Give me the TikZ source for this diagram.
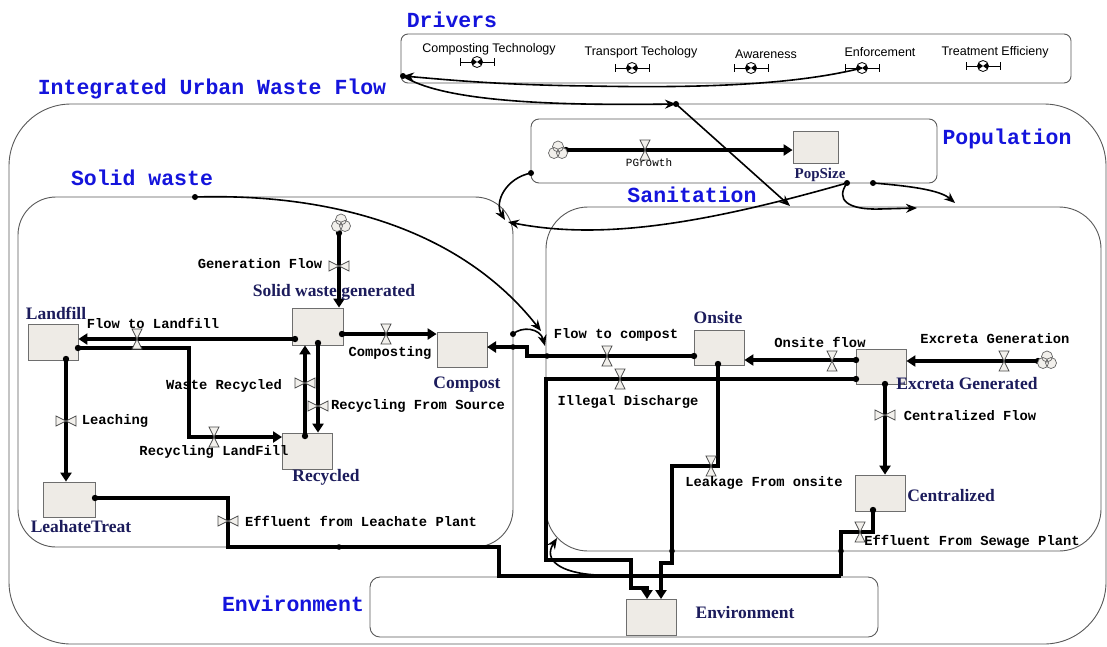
\documentclass[tikz,border=0pt]{standalone}
\usepackage{fontspec}
\setmainfont{Liberation Serif}
\newfontfamily\monof{Liberation Mono}
\newfontfamily\sansf{Liberation Sans}
\usetikzlibrary{arrows.meta}
\definecolor{stockfill}{HTML}{EEEBE6}
\definecolor{stockdraw}{HTML}{6E6E6E}
\definecolor{secblue}{HTML}{1414DC}
\definecolor{navy}{HTML}{1C1C5C}
\definecolor{valvefill}{HTML}{F2F0EC}
\tikzset{
  seclabel/.style={text=secblue, font=\monof\bfseries\fontsize{21.5}{22}\selectfont, inner sep=0pt},
  flowlabel/.style={font=\monof\bfseries\fontsize{13.8}{14}\selectfont, inner sep=0pt},
  stocklabel/.style={text=navy, font=\bfseries\fontsize{17.5}{18}\selectfont, inner sep=0pt},
  drvlabel/.style={font=\sansf\fontsize{12.5}{13}\selectfont, inner sep=0pt},
  stock/.style={draw=stockdraw, fill=stockfill, line width=0.8pt, inner sep=0pt},
  sector/.style={draw=black!65, line width=0.9pt, inner sep=0pt},
  flow/.style={line width=4pt, line join=miter, -{Triangle[length=9pt,width=11pt]}},
  flowline/.style={line width=4pt, line join=miter},
  info/.style={line width=1.6pt, -{Stealth[length=11pt,width=9pt]}},
  valvestyle/.style={draw=black!70, fill=valvefill, line width=0.7pt, line join=miter},
  valveV/.pic={\draw[valvestyle] (-5,-10) -- (5,-10) -- (-5,10) -- (5,10) -- cycle;},
  valveH/.pic={\draw[valvestyle] (-10,-5) -- (-10,5) -- (10,-5) -- (10,5) -- cycle;},
  cloudpic/.pic={\draw[fill=valvefill, draw=black!60, line width=0.7pt] (-4,3) circle (5.5pt) (4,3) circle (5.5pt) (0,-3.5) circle (5.5pt);},
  convpic/.pic={
    \draw[line width=0.9pt] (-17,0) -- (17,0) (-17,-4) -- (-17,4) (17,-4) -- (17,4);
    \fill[white] (0,0) circle (5.5pt);
    \begin{scope}\clip (0,0) circle (5.5pt);
      \fill (-6,-4.5) -- (-6,4.5) -- (6,-4.5) -- (6,4.5) -- cycle;
    \end{scope}
    \draw[line width=0.8pt] (0,0) circle (5.5pt);}
}
\begin{document}
\begin{tikzpicture}[x=1pt,y=-1pt]
\useasboundingbox (0,0) rectangle (1107,646);
\fill[white] (0,0) rectangle (1107,646);

% sector boxes
\node[sector, rounded corners=62pt, minimum width=1097pt, minimum height=540pt] (integrated) at (557.5,374) {};
\node[sector, rounded corners=7pt, minimum width=670pt, minimum height=49pt] (drivers) at (736,58.5) {};
\node[sector, rounded corners=8pt, minimum width=406pt, minimum height=64pt] (popbox) at (734,151) {};
\node[sector, rounded corners=38pt, minimum width=495pt, minimum height=350pt] (solidbox) at (265.5,372) {};
\node[sector, rounded corners=42pt, minimum width=555pt, minimum height=344pt] (sanbox) at (823.5,379) {};
\node[sector, rounded corners=10pt, minimum width=508pt, minimum height=60pt] (envbox) at (624,607) {};

% sector labels
\node[seclabel] (tDrivers) at (452,20) {Drivers};
\node[seclabel] (tIntegrated) at (212,89) {Integrated Urban Waste Flow};
\node[seclabel] (tPopulation) at (1007,139) {Population};
\node[seclabel] (tSolid) at (142,178) {Solid waste};
\node[seclabel] (tSanitation) at (692,195) {Sanitation};
\node[seclabel] (tEnvironment) at (293,604) {Environment};

% stocks
\node[stock, minimum width=50pt, minimum height=36pt] (landfill) at (53,342) {};
\node[stock, minimum width=51pt, minimum height=37pt] (swg) at (317.5,326.5) {};
\node[stock, minimum width=50pt, minimum height=35pt] (compost) at (462,349.5) {};
\node[stock, minimum width=50pt, minimum height=36pt] (recycled) at (307,451) {};
\node[stock, minimum width=52pt, minimum height=35pt] (leach) at (69,499.5) {};
\node[stock, minimum width=50pt, minimum height=35pt] (onsite) at (719,347.5) {};
\node[stock, minimum width=50pt, minimum height=35pt] (excreta) at (881,366.5) {};
\node[stock, minimum width=50pt, minimum height=36pt] (central) at (880,493) {};
\node[stock, minimum width=50pt, minimum height=36pt] (envstock) at (651,617) {};
\node[stock, minimum width=45pt, minimum height=32pt] (popsize) at (815.5,147) {};

% driver converters
\node[drvlabel] (dComp) at (489,49) {Composting Technology};
\node[drvlabel] (dTrans) at (641,52) {Transport Techology};
\node[drvlabel] (dAware) at (766,54) {Awareness};
\node[drvlabel] (dEnf) at (880,52) {Enforcement};
\node[drvlabel] (dTreat) at (995,52) {Treatment Efficieny};
\coordinate (cComp) at (477,62);
\coordinate (cTrans) at (632,68);
\coordinate (cAware) at (751,68);
\coordinate (cEnf) at (862,68);
\coordinate (cTreat) at (983,66);
\foreach \c in {cComp,cTrans,cAware,cEnf,cTreat} {\pic at (\c) {convpic};}

% information connectors
\coordinate (drvL) at (403,76);
\coordinate (topJ) at (676,104);
\coordinate (sanTop) at (790,206);
\draw[info] (cEnf) .. controls (790,86) and (690,88) .. (590,86) .. controls (500,85) and (450,80) .. (drvL);
\draw[info] (drvL) .. controls (440,100) and (540,106) .. (topJ);
\draw[info] (topJ) -- (sanTop);
\fill (drvL) circle (3pt);
\fill (topJ) circle (3pt);

\coordinate (swDot) at (195,197);
\coordinate (ftcA) at (541,331);
\draw[info] (swDot) .. controls (330,193) and (460,228) .. (ftcA);
\fill (swDot) circle (3pt);
\coordinate (cmpDot) at (513,334);
\coordinate (ftcB) at (545,346);
\draw[info] (cmpDot) .. controls (522,326) and (540,328) .. (ftcB);
\fill (cmpDot) circle (3pt);

\coordinate (popDot) at (531,173);
\coordinate (swTR) at (505,220);
\draw[info] (popDot) .. controls (506,178) and (494,202) .. (swTR);
\fill (popDot) circle (3pt);
\coordinate (psDot) at (847,183);
\coordinate (swTRb) at (508,222);
\draw[info] (psDot) .. controls (700,225) and (600,240) .. (swTRb);
\coordinate (sanA) at (917,208);
\draw[info] (psDot) .. controls (835,200) and (848,210) .. (880,209) -- (sanA);
\fill (psDot) circle (3pt);
\coordinate (psDotb) at (873,183);
\coordinate (sanB) at (955,203);
\draw[info] (psDotb) .. controls (910,186) and (940,190) .. (sanB);
\fill (psDotb) circle (3pt);
\coordinate (botDot) at (597,575);
\coordinate (sanBL) at (557,538);
\draw[info] (botDot) .. controls (560,573) and (543,560) .. (sanBL);

% flows
\coordinate (genS) at (339,233);
\draw[flow] (genS) -- (genS |- swg.north);
\coordinate (ftlS) at (295,339);
\draw[flow] (ftlS) -- (ftlS -| landfill.east);
\coordinate (rlS) at (78,348);
\coordinate (rlE) at (282,437);
\draw[flow] (rlS) -- (189,348) -- (189,437) -- (rlE);
\coordinate (wrS) at (305,436);
\draw[flow] (wrS) -- (wrS |- swg.south);
\coordinate (rfsS) at (318,343);
\draw[flow] (rfsS) -- (rfsS |- recycled.north);
\coordinate (cmpS) at (342,334);
\draw[flow] (cmpS) -- (cmpS -| compost.west);
\coordinate (lchS) at (66,359);
\draw[flow] (lchS) -- (lchS |- leach.north);
\coordinate (lefS) at (95,498);
\coordinate (jR) at (841,576);
\draw[flowline] (lefS) -- (228,498) -- (228,547) -- (499,547) -- (499,576) -- (jR);
\coordinate (sewS) at (873,510);
\draw[flowline] (sewS) -- (873,532) -- (841,532) -- (jR);
\coordinate (ftcS) at (694,356);
\coordinate (ftcE) at (487,347);
\draw[flow] (ftcS) -- (527,356) -- (527,347) -- (ftcE);
\coordinate (osS) at (856,360);
\draw[flow] (osS) -- (osS -| onsite.east);
\coordinate (exS) at (1038,361);
\draw[flow] (exS) -- (exS -| excreta.east);
\coordinate (ilS) at (856,379);
\coordinate (ilE) at (647,599);
\draw[flow] (ilS) -- (546,379) -- (546,560) -- (631,560) -- (631,588) -- (647,588) -- (ilE);
\coordinate (cfS) at (885,384);
\draw[flow] (cfS) -- (cfS |- central.north);
\coordinate (lkS) at (718,364);
\coordinate (lkE) at (661,599);
\draw[flow] (lkS) -- (718,466) -- (672,466) -- (672,563) -- (661,563) -- (lkE);
\coordinate (pgS) at (566,150);
\draw[flow] (pgS) -- (pgS -| popsize.west);

\foreach \p in {genS,ftlS,rlS,wrS,rfsS,cmpS,lchS,lefS,sewS,ftcS,osS,exS,ilS,cfS,lkS,pgS} {\fill (\p) circle (3.2pt);}
\foreach \p in {(339,547),(513,347),(547,356),(672,551),(841,551),(631,576),(661,576)} {\fill \p circle (2.8pt);}

% clouds
\pic at (341,223) {cloudpic};
\pic at (1047,360) {cloudpic};
\pic at (558,150) {cloudpic};

% valves
\pic at (339,266) {valveH};
\pic at (137,339) {valveV};
\pic at (214,437) {valveV};
\pic at (305,383) {valveH};
\pic at (318,406) {valveH};
\pic at (386,334) {valveV};
\pic at (66,421) {valveH};
\pic at (228,521) {valveH};
\pic at (860,532) {valveV};
\pic at (607,356) {valveV};
\pic at (832,361) {valveV};
\pic at (1004,361) {valveV};
\pic at (620,379) {valveV};
\pic at (885,415) {valveH};
\pic at (711,466) {valveV};
\pic at (645,150) {valveV};

% flow labels
\node[flowlabel] (lGen) at (260,264) {Generation Flow};
\node[flowlabel] (lFtl) at (153,323) {Flow to Landfill};
\node[flowlabel] (lWr) at (224,386) {Waste Recycled};
\node[flowlabel] (lRfs) at (418,406) {Recycling From Source};
\node[flowlabel] (lLch) at (115,421) {Leaching};
\node[flowlabel] (lRl) at (214,452) {Recycling LandFill};
\node[flowlabel] (lCmp) at (390,353) {Composting};
\node[flowlabel] (lLef) at (361,521) {Effluent from Leachate Plant};
\node[flowlabel] (lFtc) at (616,335) {Flow to compost};
\node[flowlabel] (lIl) at (628,402) {Illegal Discharge};
\node[flowlabel] (lOs) at (820,342) {Onsite flow};
\node[flowlabel] (lEx) at (995,339) {Excreta Generation};
\node[flowlabel] (lCf) at (970,416) {Centralized Flow};
\node[flowlabel] (lLk) at (764,483) {Leakage From onsite};
\node[flowlabel] (lSew) at (972,542) {Effluent From Sewage Plant};
\node[font=\monof\fontsize{11}{12}\selectfont, inner sep=0pt] (lPg) at (649,163) {PGrowth};

% stock labels
\node[stocklabel] (sLandfill) at (56,313) {Landfill};
\node[stocklabel] (sSwg) at (334,292) {Solid waste generated};
\node[stocklabel] (sCompost) at (467,385) {Compost};
\node[stocklabel] (sRecycled) at (326,477) {Recycled};
\node[stocklabel] (sLeach) at (81,527) {LeahateTreat};
\node[stocklabel] (sOnsite) at (718,318) {Onsite};
\node[stocklabel] (sExcreta) at (967,384) {Excreta Generated};
\node[stocklabel] (sCentral) at (951,496) {Centralized};
\node[stocklabel] (sEnv) at (745,613) {Environment};
\node[text=navy, font=\bfseries\fontsize{15}{16}\selectfont, inner sep=0pt] (sPop) at (820,175) {PopSize};
\end{tikzpicture}
\end{document}
